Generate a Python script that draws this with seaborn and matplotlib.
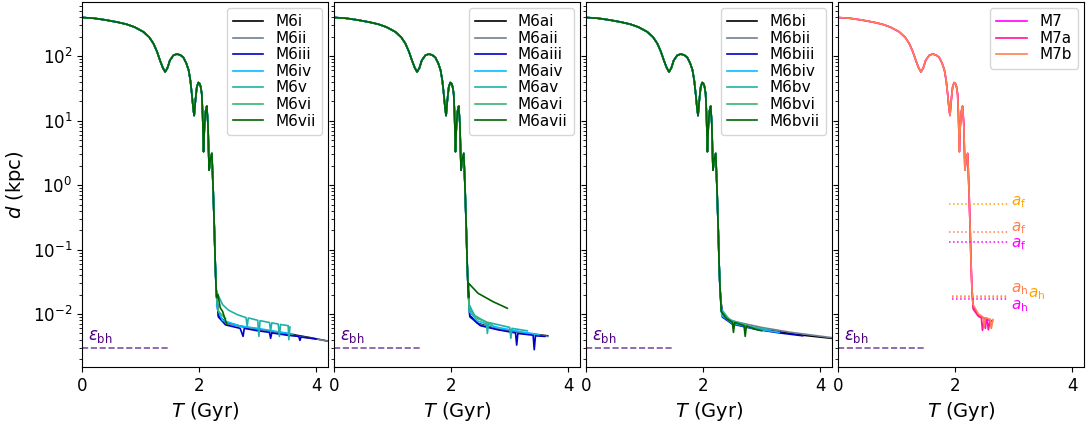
import numpy as np
import pandas as pd
import matplotlib
matplotlib.use('Agg')
import matplotlib.pyplot as plt
import seaborn as sns

# shared early orbit, T in Gyr, d in kpc
orbit_T = [0.00, 0.20, 0.40, 0.60, 0.76, 0.90, 1.05, 1.15, 1.22, 1.28, 1.33, 1.38, 1.42,
           1.46, 1.50, 1.56, 1.62, 1.68, 1.73, 1.78, 1.82, 1.85, 1.875, 1.90, 1.915,
           1.935, 1.96, 1.985, 2.005, 2.025, 2.045, 2.06, 2.075, 2.09, 2.11, 2.13,
           2.15, 2.17, 2.19, 2.217, 2.24, 2.26, 2.275, 2.29, 2.30]
orbit_d = [398, 388, 365, 338, 313, 282, 238, 196, 157, 118, 87, 66, 57,
           66, 86, 103, 108, 104, 96, 78, 61, 42, 26, 15, 12,
           20, 33, 39, 38, 34, 26, 12, 3.3, 8, 14, 16.8,
           9, 1.7, 2.5, 3.1, 0.8, 0.2, 0.06, 0.025, 0.018]

# late tails per model
tails = {
    'M6i':    ([2.33, 2.45, 2.7, 3.0, 3.3, 3.6, 3.9, 4.2],
               [0.0095, 0.0075, 0.0065, 0.0058, 0.0053, 0.0048, 0.0043, 0.0038]),
    'M6ii':   ([2.33, 2.5, 3.0, 3.5, 4.0, 4.2],
               [0.009, 0.007, 0.0057, 0.0048, 0.0041, 0.0038]),
    'M6iii':  ([2.33, 2.45, 2.7, 2.75, 2.77, 3.0, 3.2, 3.22, 3.24, 3.5, 3.7, 3.72, 3.74, 4.0],
               [0.009, 0.0068, 0.006, 0.0045, 0.006, 0.0055, 0.0052, 0.0042, 0.0051,
                0.0047, 0.0045, 0.0039, 0.0044, 0.0041]),
    'M6iv':   ([2.31, 2.4, 2.7, 3.0, 3.3, 3.6],
               [0.012, 0.008, 0.0065, 0.006, 0.0054, 0.0049]),
    'M6v':    ([2.3, 2.4, 2.5, 2.65, 2.8, 2.82, 2.84, 3.0, 3.02, 3.04, 3.2, 3.22, 3.24,
                3.35, 3.37, 3.39, 3.52, 3.53, 3.55],
               [0.022, 0.014, 0.0115, 0.0098, 0.0088, 0.0065, 0.0087, 0.008, 0.0045,
                0.0079, 0.0074, 0.0055, 0.0073, 0.007, 0.0045, 0.0069, 0.0066, 0.004, 0.0063]),
    'M6vi':   ([2.33, 2.45], [0.011, 0.0085]),
    'M6vii':  ([2.32, 2.36, 2.4, 2.44, 2.47], [0.02, 0.0125, 0.011, 0.0085, 0.007]),

    'M6ai':   ([2.32, 2.45, 2.8, 3.2, 3.65], [0.0095, 0.0072, 0.0058, 0.0051, 0.0046]),
    'M6aii':  ([2.32, 2.5, 2.9, 3.3, 3.65], [0.009, 0.0068, 0.0056, 0.005, 0.0045]),
    'M6aiii': ([2.32, 2.5, 2.8, 3.1, 3.12, 3.14, 3.4, 3.42, 3.44, 3.6],
               [0.0092, 0.0066, 0.0057, 0.0051, 0.0033, 0.005, 0.0047, 0.0028, 0.0046, 0.0045]),
    'M6aiv':  ([2.31, 2.45, 2.8, 3.2, 3.5], [0.011, 0.0078, 0.0062, 0.0053, 0.0048]),
    'M6av':   ([2.31, 2.4, 2.6, 2.62, 2.64, 3.0, 3.02, 3.04, 3.3],
               [0.014, 0.0095, 0.0075, 0.005, 0.0074, 0.0062, 0.0042, 0.006, 0.0055]),
    'M6avi':  ([2.31, 2.45, 2.7], [0.012, 0.0085, 0.007]),
    'M6avii': ([2.3, 2.46, 2.72, 2.96], [0.03, 0.021, 0.0155, 0.0123]),

    'M6bi':   ([2.33, 2.5, 2.9, 3.3, 3.7, 4.2], [0.0095, 0.0072, 0.006, 0.0053, 0.0047, 0.0042]),
    'M6bii':  ([2.33, 2.5, 3.0, 3.5, 4.2], [0.01, 0.0078, 0.0062, 0.0052, 0.0043]),
    'M6biii': ([2.33, 2.5, 2.9, 3.3, 3.7], [0.009, 0.007, 0.0058, 0.0051, 0.0046]),
    'M6biv':  ([2.32, 2.5, 2.9, 3.3], [0.0095, 0.0072, 0.0059, 0.0052]),
    'M6bv':   ([2.31, 2.45, 2.8, 3.1], [0.012, 0.0082, 0.0064, 0.0057]),
    'M6bvi':  ([2.31, 2.45, 2.7], [0.011, 0.008, 0.0068]),
    'M6bvii': ([2.31, 2.4, 2.5, 2.52, 2.54, 2.7, 2.72, 2.74, 2.9, 3.0],
               [0.011, 0.0085, 0.0075, 0.0052, 0.0074, 0.0066, 0.0045, 0.0065, 0.0058, 0.0055]),

    'M7':     ([2.31, 2.4, 2.5, 2.52, 2.54, 2.62],
               [0.013, 0.0095, 0.0085, 0.006, 0.0083, 0.0078]),
    'M7a':    ([2.31, 2.4, 2.45, 2.47, 2.5, 2.55, 2.57, 2.6, 2.63],
               [0.012, 0.0092, 0.0088, 0.0056, 0.0086, 0.0082, 0.0057, 0.008, 0.0079]),
    'M7b':    ([2.31, 2.4, 2.48, 2.5, 2.52, 2.6, 2.62, 2.65],
               [0.014, 0.01, 0.009, 0.0062, 0.0088, 0.0083, 0.006, 0.0082]),
}

panels = [
    ['M6i', 'M6ii', 'M6iii', 'M6iv', 'M6v', 'M6vi', 'M6vii'],
    ['M6ai', 'M6aii', 'M6aiii', 'M6aiv', 'M6av', 'M6avi', 'M6avii'],
    ['M6bi', 'M6bii', 'M6biii', 'M6biv', 'M6bv', 'M6bvi', 'M6bvii'],
    ['M7', 'M7a', 'M7b'],
]
m6_colors = ['black', 'slategray', 'mediumblue', 'deepskyblue', 'lightseagreen',
             'mediumseagreen', 'darkgreen']
m7_colors = ['magenta', 'deeppink', 'coral']

eps_bh = 0.003
af_vals = [0.51, 0.19, 0.13]
ah_vals = [0.0192, 0.0186, 0.0171]
ann_colors = ['orange', 'coral', 'magenta']

fig, axes = plt.subplots(1, 4, figsize=(10.86, 4.23), dpi=100, sharey=True)
fig.subplots_adjust(left=0.0755, right=0.998, bottom=0.132, top=0.995, wspace=0.024)

for ax, models in zip(axes, panels):
    rows = []
    for m in models:
        tT, td = tails[m]
        for t, d in zip(orbit_T + tT, orbit_d + td):
            rows.append((m, t, d))
    df = pd.DataFrame(rows, columns=['model', 'T', 'd'])
    cols = m7_colors if len(models) == 3 else m6_colors
    sns.lineplot(data=df, x='T', y='d', hue='model', hue_order=models,
                 palette=dict(zip(models, cols)), sort=False, estimator=None,
                 lw=1.2, ax=ax)
    ax.set_yscale('log')
    ax.set_xlim(0, 4.2)
    ax.set_ylim(1.5e-3, 690)
    ax.set_xticks([0, 2, 4])
    ax.set_xlabel('$T$ (Gyr)', fontsize=14)
    ax.set_ylabel('')
    ax.tick_params(labelsize=12)
    ax.plot([0, 1.5], [eps_bh, eps_bh], ls='--', color='rebeccapurple', lw=1.2, alpha=0.85)
    ax.text(0.1, 0.0046, r'$\varepsilon_{\rm bh}$', color='indigo', fontsize=12,
            ha='left', va='center')
    sns.move_legend(ax, 'upper right', title=None, fontsize=11, labelspacing=0.1,
                    handlelength=2.0, borderaxespad=0.4)

ax4 = axes[3]
for af, ah, c in zip(af_vals, ah_vals, ann_colors):
    ax4.plot([1.9, 2.9], [af, af], ls=':', color=c, lw=1.1)
    ax4.plot([1.95, 2.9], [ah, ah], ls=':', color=c, lw=1.1)
ax4.text(2.95, af_vals[0] * 1.06, r'$a_{\rm f}$', color=ann_colors[0], fontsize=11, va='center')
ax4.text(2.95, af_vals[1] * 1.12, r'$a_{\rm f}$', color=ann_colors[1], fontsize=11, va='center')
ax4.text(2.95, af_vals[2] * 0.95, r'$a_{\rm f}$', color=ann_colors[2], fontsize=11, va='center')
ax4.text(2.95, ah_vals[1] * 1.3, r'$a_{\rm h}$', color=ann_colors[1], fontsize=11, va='center')
ax4.text(2.95, ah_vals[2] * 0.78, r'$a_{\rm h}$', color=ann_colors[2], fontsize=11, va='center')
ax4.text(3.24, ah_vals[0] * 1.06, r'$a_{\rm h}$', color=ann_colors[0], fontsize=11, va='center')

axes[0].set_ylabel('$d$ (kpc)', fontsize=14)

plt.savefig('out.png', dpi=100)
